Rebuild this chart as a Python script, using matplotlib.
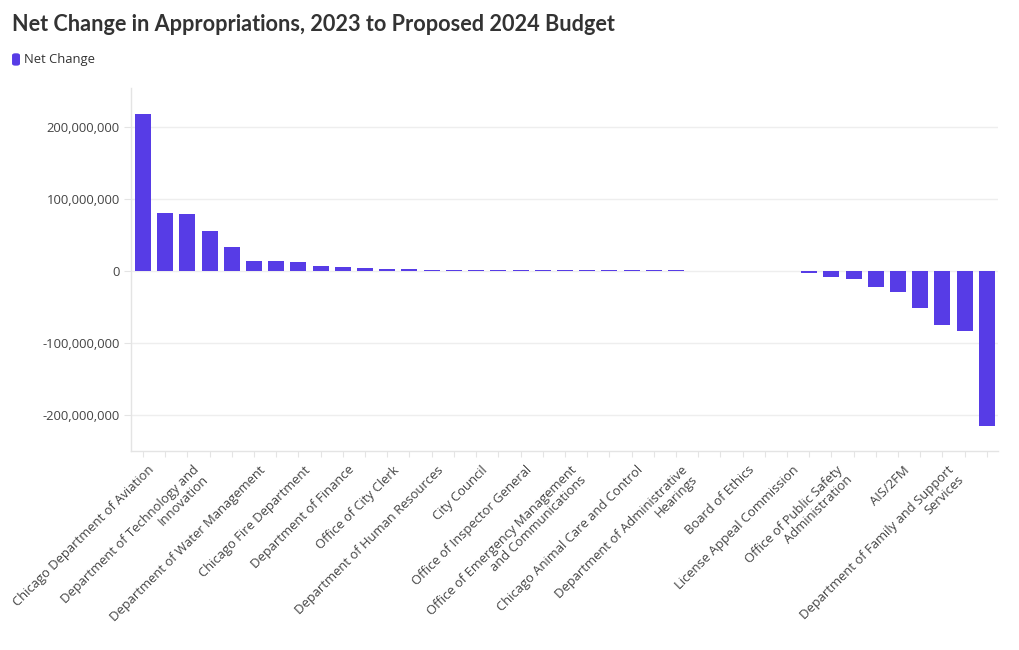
import matplotlib.pyplot as plt
import matplotlib.transforms as mtransforms
from matplotlib.patches import FancyBboxPatch
from matplotlib.ticker import FuncFormatter, MultipleLocator

# categories in chart order; blank entries are bars whose label is not shown
departments = [
    'Chicago Department of Aviation', '', 'Department of Technology and\nInnovation', '', '',
    'Department of Water Management', '', 'Chicago Fire Department', '', 'Department of Finance',
    '', 'Office of City Clerk', '', 'Department of Human Resources', '',
    'City Council', '', 'Office of Inspector General', '', 'Office of Emergency Management\nand Communications',
    '', '', 'Chicago Animal Care and Control', '', 'Department of Administrative\nHearings',
    '', '', 'Board of Ethics', '', 'License Appeal Commission',
    '', 'Office of Public Safety\nAdministration', '', '', 'AIS/2FM',
    '', 'Department of Family and Support\nServices', '', '',
]
# net change in dollars (millions)
net_change_m = [
    218, 81, 79.6, 55.5, 33.3,
    13.4, 13.2, 12.5, 7, 5.5,
    3.7, 2.8, 2.3, 1.9, 1.6,
    1.4, 1.3, 1.2, 1.1, 1.0,
    0.9, 0.9, 0.8, 0.8, 0.7,
    0.05, 0, 0, -0.05, -0.1,
    -3.2, -7.8, -11.6, -21.8, -28.7,
    -51.9, -75, -83.3, -215,
]
net_change = [v * 1e6 for v in net_change_m]

bar_color = '#573ce6'
grid_color = '#eeeeee'
text_color = '#333333'

fig = plt.figure(figsize=(10.2, 6.5), dpi=100)
ax = fig.add_axes([0.1284, 0.3062, 0.8496, 0.5584])

x = list(range(len(net_change)))
ax.bar(x, net_change, width=0.72, color=bar_color, zorder=3)

ax.set_xlim(-0.54, 38.48)
ax.set_ylim(-250e6, 254e6)
ax.yaxis.set_major_locator(MultipleLocator(100e6))
ax.yaxis.set_major_formatter(FuncFormatter(lambda v, p: f'{int(round(v)):,}'))
ax.grid(axis='y', color=grid_color, linewidth=1, zorder=0)

for side in ['top', 'right']:
    ax.spines[side].set_visible(False)
for side in ['left', 'bottom']:
    ax.spines[side].set_color('#e4e4e4')
    ax.spines[side].set_linewidth(1)

ax.tick_params(axis='y', length=5, color='#e4e4e4', pad=3,
               labelsize=9.4, labelcolor='#444444')
ax.tick_params(axis='x', length=4, color='#e4e4e4', pad=5,
               labelsize=9.4, labelcolor='#444444')
for lab in ax.get_yticklabels():
    lab.set_fontfamily('Open Sans')

ax.set_xticks(x)
ax.set_xticklabels(departments, rotation=45, ha='right', va='top',
                   rotation_mode='anchor', multialignment='right',
                   fontfamily='Open Sans', linespacing=1.05)
shift = mtransforms.ScaledTranslation(0.05, 0, fig.dpi_scale_trans)
for lab in ax.get_xticklabels():
    lab.set_transform(lab.get_transform() + shift)

fig.text(0.0118, 0.962, 'Net Change in Appropriations, 2023 to Proposed 2024 Budget',
         fontsize=15.6, fontweight='bold', color=text_color, fontfamily='Lato',
         va='center', ha='left')

fig.patches.append(FancyBboxPatch((0.0118, 0.899), 0.0078, 0.019,
                                  boxstyle='round,pad=0,rounding_size=0.003',
                                  transform=fig.transFigure, facecolor=bar_color,
                                  edgecolor='none'))
fig.text(0.0235, 0.908, 'Net Change', fontsize=9.4, color=text_color,
         fontfamily='Open Sans', va='center', ha='left')

fig.savefig('out.png', dpi=100)
